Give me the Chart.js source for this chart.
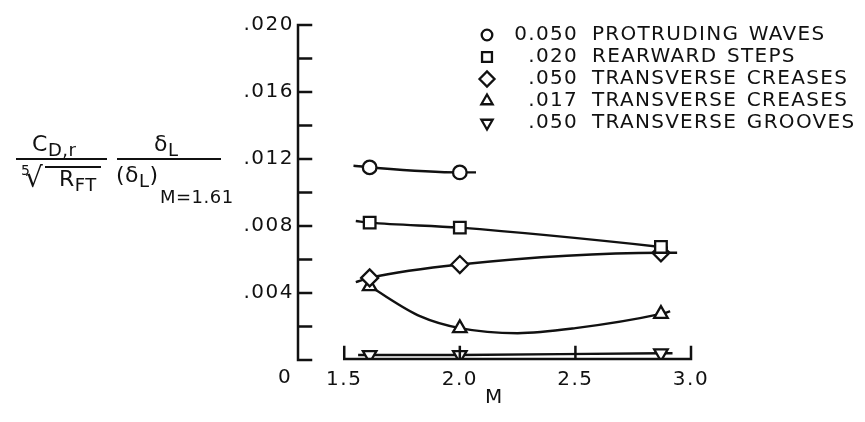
<!DOCTYPE html>
<html>
<head>
<meta charset="utf-8">
<script src="https://cdn.jsdelivr.net/npm/chart.js@4.4.0/dist/chart.umd.min.js"></script>
<style>
  body { margin: 0; background: #fff; }
  #wrap { position: relative; width: 865px; height: 422px; font-family: "DejaVu Sans", sans-serif; color: #111; }
  canvas { position: absolute; left: 0; top: 0; }
  .t { position: absolute; font-size: 22px; line-height: 1; white-space: nowrap; letter-spacing: 0.5px; }
  .t sub { font-size: 18px; vertical-align: -5px; }
  .bar { position: absolute; height: 2px; background: #111; }
</style>
</head>
<body>
<div id="wrap">
  <canvas id="chart" width="865" height="422"></canvas>
  <!-- y axis label, two fractions -->
  <div class="t" style="left:32px; top:133px;">C<sub>D,r</sub></div>
  <div class="bar" style="left:16px; top:158px; width:91px;"></div>
  <div class="t" style="left:21px; top:163px; font-size:14px;">5</div>
  <div class="t" style="left:25px; top:164px; font-size:28px;">√</div>
  <div class="bar" style="left:45px; top:166px; width:56px;"></div>
  <div class="t" style="left:59px; top:168px;">R<sub>FT</sub></div>
  <div class="t" style="left:154px; top:133px;">δ<sub>L</sub></div>
  <div class="bar" style="left:117px; top:158px; width:104px;"></div>
  <div class="t" style="left:116px; top:164px;">(δ<sub>L</sub>)</div>
  <div class="t" style="left:160px; top:188px; font-size:18px;">M=1.61</div>
</div>
<script>
// Mach number (x) and drag parameter (y) for each roughness type
const legendNums = ["0.050", ".020", ".050", ".017", ".050"];
const legendNames = ["PROTRUDING WAVES", "REARWARD STEPS", "TRANSVERSE CREASES", "TRANSVERSE CREASES", "TRANSVERSE GROOVES"];

const wavesM = [1.61, 2.0];
const wavesY = [0.0115, 0.0112];
const stepsM = [1.61, 2.0, 2.87];
const stepsY = [0.0082, 0.0079, 0.00675];
const creases050M = [1.61, 2.0, 2.87];
const creases050Y = [0.0049, 0.0057, 0.0064];
const creases017M = [1.61, 2.0, 2.87];
const creases017Y = [0.0044, 0.0019, 0.00275];
const groovesM = [1.61, 2.0, 2.87];
const groovesY = [0.0003, 0.0003, 0.0004];

// faired curves as drawn through the points
const wavesCurveM = [1.54, 1.61, 2.0, 2.07];
const wavesCurveY = [0.0116, 0.0115, 0.0112, 0.0112];
const stepsCurveM = [1.55, 1.61, 2.0, 2.87, 2.9];
const stepsCurveY = [0.0083, 0.0082, 0.0079, 0.00675, 0.0067];
const creases050CurveM = [1.55, 1.61, 2.0, 2.87, 2.94];
const creases050CurveY = [0.00465, 0.0049, 0.0057, 0.0064, 0.0064];
const creases017CurveM = [1.61, 1.83, 2.0, 2.25, 2.5, 2.87, 2.91];
const creases017CurveY = [0.0044, 0.0026, 0.0019, 0.0016, 0.0019, 0.00275, 0.0029];
const groovesCurveM = [1.56, 1.61, 2.0, 2.87, 2.92];
const groovesCurveY = [0.0003, 0.0003, 0.0003, 0.0004, 0.0004];

const xTicks = [1.5, 2.0, 2.5, 3.0];
const xMin = 1.3;
const ink = "#111";
const font = "DejaVu Sans";

const pts = (xs, ys) => xs.map((v, i) => ({ x: v, y: ys[i] }));

const styles = [
  { pointStyle: "circle", radius: 6.8, rotation: 0 },
  { pointStyle: "rect", radius: 8.2, rotation: 0 },
  { pointStyle: "rectRot", radius: 8.5, rotation: 0 },
  { pointStyle: "triangle", radius: 7.8, rotation: 0 },
  { pointStyle: "triangle", radius: 7.8, rotation: 180 },
];

const markerSets = [
  pts(wavesM, wavesY), pts(stepsM, stepsY), pts(creases050M, creases050Y),
  pts(creases017M, creases017Y), pts(groovesM, groovesY),
];
const curveSets = [
  pts(wavesCurveM, wavesCurveY), pts(stepsCurveM, stepsCurveY),
  pts(creases050CurveM, creases050CurveY), pts(creases017CurveM, creases017CurveY),
  pts(groovesCurveM, groovesCurveY),
];

const datasets = [];
markerSets.forEach((d, i) => {
  datasets.push({
    data: d,
    showLine: false,
    pointStyle: styles[i].pointStyle,
    pointRadius: styles[i].radius,
    pointRotation: styles[i].rotation,
    pointBackgroundColor: "#fff",
    pointBorderColor: ink,
    pointBorderWidth: 2.3,
    order: 0,
  });
});
curveSets.forEach((d) => {
  datasets.push({
    data: d,
    borderColor: ink,
    borderWidth: 2.4,
    pointRadius: 0,
    cubicInterpolationMode: "monotone",
    fill: false,
    order: 1,
  });
});

// wider lettering for all canvas text
const spacingPlugin = {
  id: "spacingPlugin",
  beforeDraw(chart) { chart.ctx.letterSpacing = "1.5px"; },
};

const axesPlugin = {
  id: "axesPlugin",
  afterDraw(chart) {
    const { ctx, chartArea } = chart;
    const x = chart.scales.x;
    const y = chart.scales.y;
    const left = chartArea.left;
    const y0 = y.getPixelForValue(0);
    ctx.save();
    ctx.strokeStyle = ink;
    ctx.lineWidth = 2.5;
    ctx.lineCap = "square";
    ctx.beginPath();
    ctx.moveTo(left, y.getPixelForValue(0.02));
    ctx.lineTo(left, y0);
    y.ticks.forEach((t) => {
      const py = y.getPixelForValue(t.value);
      ctx.moveTo(left, py);
      ctx.lineTo(left + 13, py);
    });
    const xb = y0 - 1;
    ctx.moveTo(x.getPixelForValue(1.5), xb);
    ctx.lineTo(x.getPixelForValue(3.0), xb);
    xTicks.forEach((v) => {
      const px = x.getPixelForValue(v);
      ctx.moveTo(px, xb);
      ctx.lineTo(px, xb - 12);
    });
    ctx.stroke();
    ctx.fillStyle = ink;
    ctx.font = "20px '" + font + "'";
    ctx.textAlign = "center";
    ctx.textBaseline = "middle";
    ctx.fillText("0", left - 13, y0 + 18);
    ctx.restore();
  },
};

const legendPlugin = {
  id: "legendPlugin",
  afterDraw(chart) {
    const { ctx } = chart;
    const symX = 487, numRight = 578, nameLeft = 592, top = 35, step = 22;
    const legendStyles = [
      { pointStyle: "circle", radius: 5.3, rotation: 0 },
      { pointStyle: "rect", radius: 7, rotation: 0 },
      { pointStyle: "rectRot", radius: 7.5, rotation: 0 },
      { pointStyle: "triangle", radius: 6.5, rotation: 0 },
      { pointStyle: "triangle", radius: 6.5, rotation: 180 },
    ];
    ctx.save();
    ctx.fillStyle = ink;
    ctx.strokeStyle = ink;
    ctx.font = "20px '" + font + "'";
    ctx.textBaseline = "middle";
    ctx.letterSpacing = "1.3px";
    legendNums.forEach((n, i) => {
      const yy = top + i * step;
      ctx.save();
      ctx.fillStyle = "#fff";
      ctx.lineWidth = 2.3;
      Chart.helpers.drawPoint(ctx, { ...legendStyles[i], borderWidth: 2.3 }, symX, yy);
      ctx.restore();
      ctx.textAlign = "right";
      ctx.fillText(n, numRight, yy);
      ctx.textAlign = "left";
      ctx.wordSpacing = "2px";
      ctx.fillText(legendNames[i], nameLeft, yy);
      ctx.wordSpacing = "0px";
    });
    ctx.restore();
  },
};

new Chart(document.getElementById("chart"), {
  type: "line",
  data: { datasets },
  options: {
    responsive: false,
    animation: false,
    layout: { padding: { left: 0, right: 174, top: 25, bottom: 0 } },
    plugins: { legend: { display: false }, tooltip: { enabled: false } },
    scales: {
      x: {
        type: "linear",
        min: xMin,
        max: 3.0,
        grid: { display: false, drawTicks: false },
        border: { display: false },
        afterBuildTicks: (s) => { s.ticks = xTicks.map((v) => ({ value: v })); },
        afterFit: (s) => { s.height = 62; },
        ticks: {
          color: ink,
          font: { family: font, size: 20 },
          padding: 8,
          maxRotation: 0,
          autoSkip: false,
          callback: (v) => Number(v).toFixed(1),
        },
        title: { display: true, text: "M", color: ink, font: { family: font, size: 20 }, padding: { top: 0, bottom: 12 } },
      },
      y: {
        type: "linear",
        min: 0,
        max: 0.02,
        grid: { display: false, drawTicks: false },
        border: { display: false },
        afterFit: (s) => { s.width = 298; },
        ticks: {
          stepSize: 0.002,
          color: ink,
          font: { family: font, size: 20 },
          padding: 4,
          autoSkip: false,
          callback: (v) => {
            const k = Math.round(v * 1000);
            if (k === 0 || k % 4 !== 0) return "";
            return "." + String(k).padStart(3, "0");
          },
        },
      },
    },
  },
  plugins: [spacingPlugin, axesPlugin, legendPlugin],
});
</script>
</body>
</html>
